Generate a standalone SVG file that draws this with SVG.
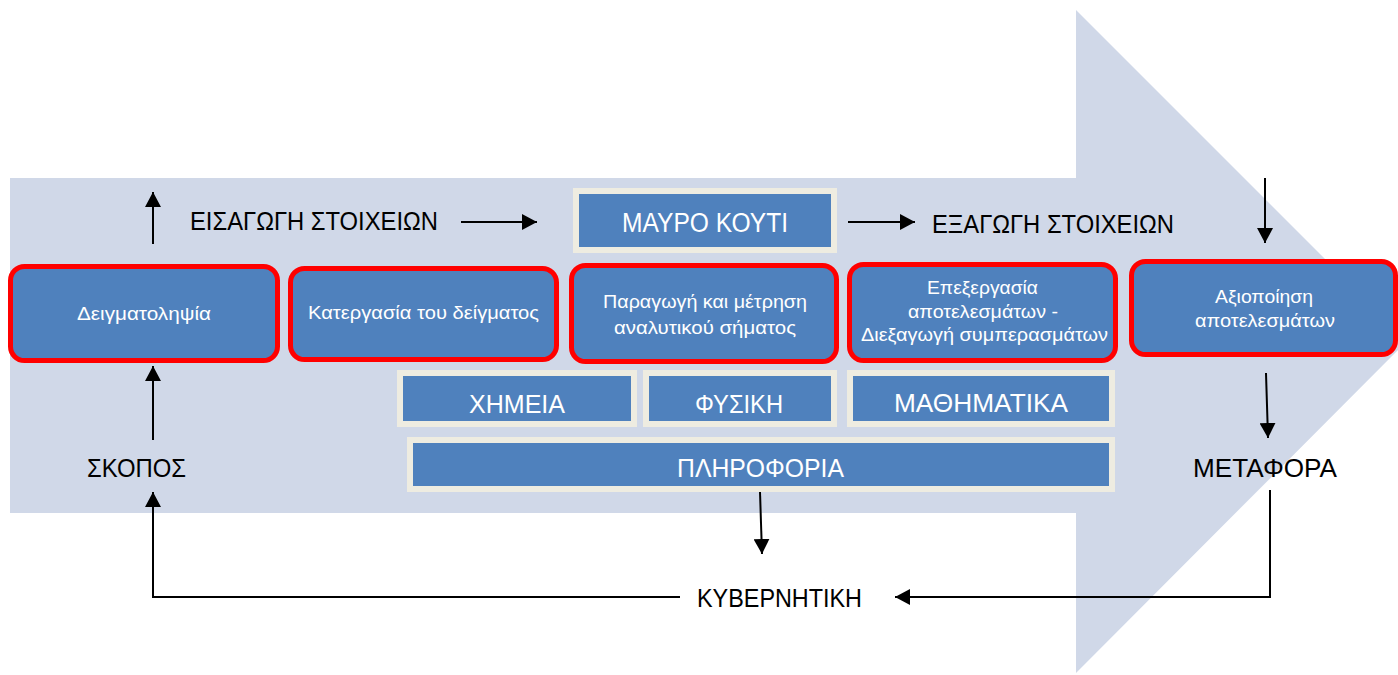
<svg xmlns="http://www.w3.org/2000/svg" width="1398" height="675" viewBox="0 0 1398 675">
  <defs>
    <style>
      .step { fill: #4F81BD; stroke: #FF0000; stroke-width: 5; }
      .field { fill: #4F81BD; stroke: #EEECE1; stroke-width: 6; }
      .lbl { font-family: "Liberation Sans", "Noto Sans", sans-serif; fill: #000; font-size: 25px; }
      .wlbl { font-family: "Liberation Sans", "Noto Sans", sans-serif; fill: #FFFFFF; font-size: 18px; text-anchor: start; }
      .big { font-size: 27px; }
      .wire { fill: none; stroke: #000; stroke-width: 2; }
    </style>
    <marker id="head" viewBox="0 0 15 16" refX="15" refY="8" markerWidth="15" markerHeight="16" markerUnits="userSpaceOnUse" orient="auto">
      <path d="M0,0 L15,8 L0,16 z" fill="#000"/>
    </marker>
  </defs>

  <rect width="1398" height="675" fill="#FFFFFF"/>

  <!-- large background arrow -->
  <polygon id="flow-arrow" points="10,178 1076,178 1076,10 1407,341 1076,673 1076,513 10,513" fill="#D0D8E8"/>

  <!-- process steps -->
  <g id="step-sampling">
    <rect class="step" x="10.5" y="266.5" width="267" height="94" rx="14"/>
    <text class="wlbl" x="77" y="320" textLength="134" lengthAdjust="spacingAndGlyphs">Δειγματοληψία</text>
  </g>
  <g id="step-treatment">
    <rect class="step" x="290.5" y="268.5" width="266" height="91" rx="14"/>
    <text class="wlbl" x="308" y="319" textLength="231" lengthAdjust="spacingAndGlyphs">Κατεργασία του δείγματος</text>
  </g>
  <g id="step-signal">
    <rect class="step" x="571.5" y="265.5" width="265" height="96" rx="14"/>
    <text class="wlbl" x="603" y="308" textLength="204" lengthAdjust="spacingAndGlyphs">Παραγωγή και μέτρηση</text>
    <text class="wlbl" x="614" y="334" textLength="182" lengthAdjust="spacingAndGlyphs">αναλυτικού σήματος</text>
  </g>
  <g id="step-processing">
    <rect class="step" x="849.5" y="264.5" width="266" height="96" rx="14"/>
    <text class="wlbl" x="927" y="294" textLength="111" lengthAdjust="spacingAndGlyphs">Επεξεργασία</text>
    <text class="wlbl" x="908" y="318" textLength="150" lengthAdjust="spacingAndGlyphs">αποτελεσμάτων -</text>
    <text class="wlbl" x="861" y="341" textLength="247" lengthAdjust="spacingAndGlyphs">Διεξαγωγή συμπερασμάτων</text>
  </g>
  <g id="step-exploitation">
    <rect class="step" x="1131.5" y="261.5" width="264" height="93" rx="14"/>
    <text class="wlbl" x="1215" y="303" textLength="98" lengthAdjust="spacingAndGlyphs">Αξιοποίηση</text>
    <text class="wlbl" x="1195" y="327" textLength="140" lengthAdjust="spacingAndGlyphs">αποτελεσμάτων</text>
  </g>

  <!-- black box and knowledge fields -->
  <g id="black-box">
    <rect class="field" x="576" y="191" width="258" height="59"/>
    <text class="wlbl big" x="622" y="232" textLength="166" lengthAdjust="spacingAndGlyphs">ΜΑΥΡΟ ΚΟΥΤΙ</text>
  </g>
  <g id="field-chemistry">
    <rect class="field" x="400" y="373" width="234" height="51"/>
    <text class="wlbl" style="font-size:26px" x="469" y="413" textLength="96" lengthAdjust="spacingAndGlyphs">ΧΗΜΕΙΑ</text>
  </g>
  <g id="field-physics">
    <rect class="field" x="646" y="373" width="188" height="51"/>
    <text class="wlbl" style="font-size:26px" x="695" y="413" textLength="88" lengthAdjust="spacingAndGlyphs">ΦΥΣΙΚΗ</text>
  </g>
  <g id="field-math">
    <rect class="field" x="850" y="373" width="262" height="51"/>
    <text class="wlbl" style="font-size:26px" x="894" y="412" textLength="174" lengthAdjust="spacingAndGlyphs">ΜΑΘΗΜΑΤΙΚΑ</text>
  </g>
  <g id="field-information">
    <rect class="field" x="410" y="440" width="702" height="49"/>
    <text class="wlbl" style="font-size:26px" x="677" y="477" textLength="167" lengthAdjust="spacingAndGlyphs">ΠΛΗΡΟΦΟΡΙΑ</text>
  </g>

  <!-- free labels -->
  <g id="label-input">
    <text class="lbl" x="190" y="230" textLength="248" lengthAdjust="spacingAndGlyphs">ΕΙΣΑΓΩΓΗ ΣΤΟΙΧΕΙΩΝ</text>
  </g>
  <g id="label-output">
    <text class="lbl" x="932" y="233" textLength="242" lengthAdjust="spacingAndGlyphs">ΕΞΑΓΩΓΗ ΣΤΟΙΧΕΙΩΝ</text>
  </g>
  <g id="label-goal">
    <text class="lbl" x="87" y="477" textLength="99" lengthAdjust="spacingAndGlyphs">ΣΚΟΠΟΣ</text>
  </g>
  <g id="label-transfer">
    <text class="lbl" x="1193" y="477" textLength="144" lengthAdjust="spacingAndGlyphs">ΜΕΤΑΦΟΡΑ</text>
  </g>
  <g id="label-cybernetics">
    <text class="lbl" x="697" y="607" textLength="165" lengthAdjust="spacingAndGlyphs">ΚΥΒΕΡΝΗΤΙΚΗ</text>
  </g>

  <!-- connectors -->
  <g id="connectors">
    <line class="wire" x1="153" y1="244" x2="153" y2="192" marker-end="url(#head)"/>
    <line class="wire" x1="461" y1="222" x2="537" y2="222" marker-end="url(#head)"/>
    <line class="wire" x1="848" y1="222" x2="915" y2="222" marker-end="url(#head)"/>
    <line class="wire" x1="1265" y1="178" x2="1265" y2="243" marker-end="url(#head)"/>
    <line class="wire" x1="153" y1="440" x2="153" y2="366" marker-end="url(#head)"/>
    <line class="wire" x1="1266" y1="373" x2="1268" y2="438" marker-end="url(#head)"/>
    <line class="wire" x1="760" y1="492" x2="762" y2="554" marker-end="url(#head)"/>
    <polyline class="wire" points="1270,490 1270,597 895,597" marker-end="url(#head)"/>
    <polyline class="wire" points="680,597 153,597 153,492" marker-end="url(#head)"/>
  </g>
</svg>
